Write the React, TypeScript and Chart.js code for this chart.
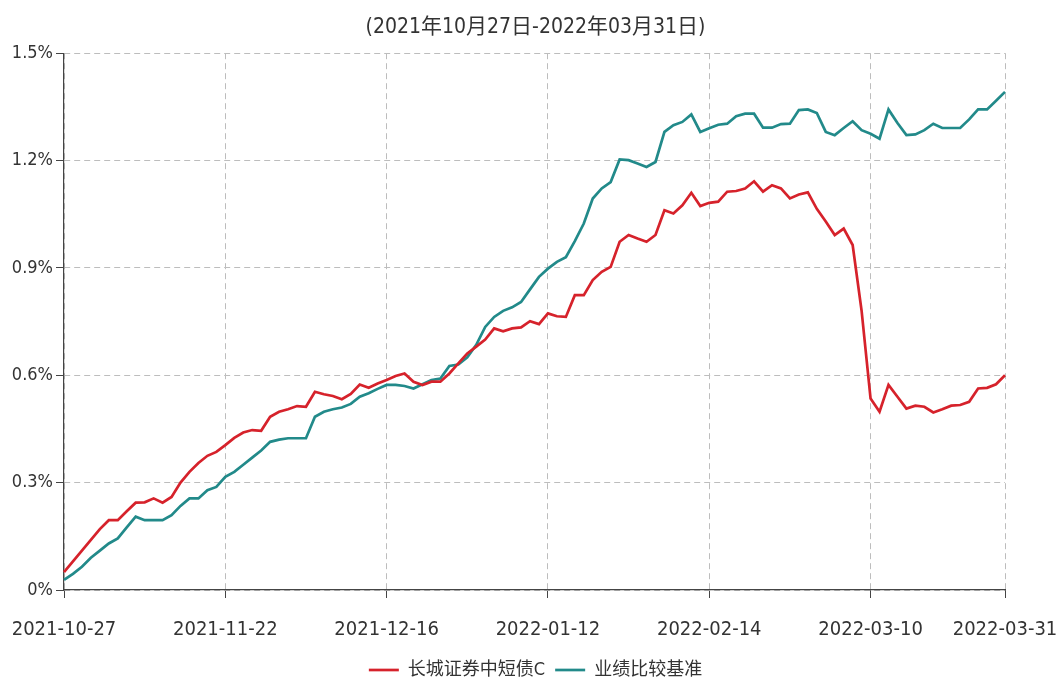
import React, { useEffect, useRef } from "react";
import { Chart, registerables } from "chart.js";

Chart.register(...registerables);

const titleText = "(2021年10月27日-2022年03月31日)";
const seriesNames = ["长城证券中短债C", "业绩比较基准"];

// trading days by month
const tradingDays: [string, number[]][] = [
  ["2021-10", [27, 28, 29]],
  ["2021-11", [1, 2, 3, 4, 5, 8, 9, 10, 11, 12, 15, 16, 17, 18, 19, 22, 23, 24, 25, 26, 29, 30]],
  ["2021-12", [1, 2, 3, 6, 7, 8, 9, 10, 13, 14, 15, 16, 17, 20, 21, 22, 23, 24, 27, 28, 29, 30, 31]],
  ["2022-01", [4, 5, 6, 7, 10, 11, 12, 13, 14, 17, 18, 19, 20, 21, 24, 25, 26, 27, 28]],
  ["2022-02", [7, 8, 9, 10, 11, 14, 15, 16, 17, 18, 21, 22, 23, 24, 25, 28]],
  ["2022-03", [1, 2, 3, 4, 7, 8, 9, 10, 11, 14, 15, 16, 17, 18, 21, 22, 23, 24, 25, 28, 29, 30, 31]],
];
const categories: string[] = tradingDays.flatMap(([m, days]) =>
  days.map((d) => `${m}-${String(d).padStart(2, "0")}`)
);

const xTickLabels = ["2021-10-27", "2021-11-22", "2021-12-16", "2022-01-12", "2022-02-14", "2022-03-10", "2022-03-31"];
const yTickValues = [0, 0.3, 0.6, 0.9, 1.2, 1.5];

// 长城证券中短债C (%)
const fundValues = [
  0.05, 0.08, 0.11, 0.14, 0.17, 0.195, 0.195, 0.22, 0.244, 0.245,
  0.256, 0.244, 0.26, 0.3, 0.33, 0.355, 0.375, 0.386, 0.405, 0.425,
  0.44, 0.447, 0.445, 0.484, 0.498, 0.505, 0.514, 0.512, 0.554, 0.547,
  0.542, 0.533, 0.548, 0.574, 0.565, 0.577, 0.587, 0.598, 0.605, 0.582,
  0.573, 0.582, 0.582, 0.605, 0.633, 0.661, 0.68, 0.7, 0.731, 0.723,
  0.731, 0.734, 0.751, 0.743, 0.773, 0.765, 0.763, 0.824, 0.824, 0.866,
  0.889, 0.903, 0.973, 0.992, 0.982, 0.973, 0.992, 1.061, 1.052, 1.075,
  1.11, 1.073, 1.082, 1.085, 1.113, 1.115, 1.122, 1.142, 1.113, 1.131,
  1.122, 1.094, 1.105, 1.111, 1.065, 1.03, 0.992, 1.01, 0.964, 0.78,
  0.535, 0.498, 0.573, 0.54, 0.507, 0.515, 0.512, 0.496, 0.505, 0.515,
  0.517, 0.526, 0.563, 0.565, 0.575, 0.6,
];

// 业绩比较基准 (%)
const benchmarkValues = [
  0.028, 0.045, 0.065, 0.09, 0.11, 0.13, 0.144, 0.175, 0.205, 0.195,
  0.195, 0.195, 0.209, 0.235, 0.256, 0.256, 0.279, 0.288, 0.316, 0.33,
  0.35, 0.37, 0.39, 0.414, 0.42, 0.424, 0.424, 0.424, 0.484, 0.498,
  0.505, 0.51, 0.52, 0.54, 0.55, 0.562, 0.573, 0.573, 0.57, 0.563,
  0.575, 0.587, 0.591, 0.626, 0.63, 0.65, 0.685, 0.735, 0.763, 0.78,
  0.79, 0.805, 0.84, 0.875, 0.898, 0.917, 0.93, 0.975, 1.024, 1.094,
  1.122, 1.14, 1.203, 1.201, 1.192, 1.182, 1.196, 1.28, 1.299, 1.308,
  1.329, 1.28, 1.29, 1.3, 1.303, 1.324, 1.331, 1.331, 1.292, 1.292,
  1.302, 1.303, 1.341, 1.343, 1.333, 1.28, 1.271, 1.291, 1.31, 1.285,
  1.275, 1.261, 1.343, 1.305, 1.271, 1.273, 1.285, 1.303, 1.291, 1.291,
  1.291, 1.315, 1.343, 1.343, 1.367, 1.392,
];

const FONT = '"DejaVu Sans Condensed", "Noto Sans CJK SC", sans-serif';

// centre title and legend over the plot area, legend slightly lower
const blockShift = {
  id: "blockShift",
  afterLayout(chart: any) {
    const l = chart.legend;
    if (l) {
      l.top += 7;
      l.bottom += 7;
      l.left += 33;
      l.right += 33;
    }
    const t = chart.titleBlock;
    if (t) {
      t.left += 33;
      t.right += 33;
    }
  },
};

export default function App() {
  const canvasRef = useRef<HTMLCanvasElement | null>(null);

  useEffect(() => {
    if (!canvasRef.current) return;
    const chart = new Chart(canvasRef.current, {
      type: "line",
      data: {
        labels: categories,
        datasets: [
          {
            label: seriesNames[0],
            data: fundValues,
            borderColor: "#d6222b",
            backgroundColor: "#d6222b",
            borderWidth: 2.7,
            pointRadius: 0,
            tension: 0,
          },
          {
            label: seriesNames[1],
            data: benchmarkValues,
            borderColor: "#228a8a",
            backgroundColor: "#228a8a",
            borderWidth: 2.7,
            pointRadius: 0,
            tension: 0,
          },
        ],
      },
      options: {
        animation: false,
        responsive: true,
        maintainAspectRatio: false,
        layout: { padding: { left: 0, right: 52, top: 0, bottom: 0 } },
        plugins: {
          title: {
            display: true,
            text: titleText,
            color: "#333",
            font: { family: FONT, size: 21, weight: "normal", lineHeight: 1.2 },
            padding: { top: 15, bottom: 13 },
          },
          legend: {
            position: "bottom",
            labels: {
              usePointStyle: true,
              pointStyle: "line",
              pointStyleWidth: 30,
              color: "#333",
              padding: 10,
              font: { family: FONT, size: 18 },
            },
          },
          tooltip: { enabled: false },
        },
        scales: {
          x: {
            type: "category",
            afterFit: (scale: any) => {
              scale.height = 54;
              scale.paddingLeft = 0;
              scale.paddingRight = 0;
            },
            border: { display: true, color: "#444", width: 1.2, dash: [6, 4] },
            grid: {
              color: "#bdbdbd",
              lineWidth: 1,
              drawTicks: true,
              tickLength: 8,
              tickColor: "#444",
              tickBorderDash: [],
            },
            ticks: {
              autoSkip: false,
              maxRotation: 0,
              minRotation: 0,
              padding: 20,
              color: "#333",
              font: { family: FONT, size: 20 },
              callback: function (this: any, value: any) {
                const label = this.getLabelForValue(value);
                return xTickLabels.includes(label) ? label : null;
              },
            },
          },
          y: {
            min: 0,
            max: 1.5,
            afterFit: (scale: any) => {
              scale.width = 64;
            },
            afterBuildTicks: (scale: any) => {
              scale.ticks = yTickValues.map((v) => ({ value: v }));
            },
            border: { display: true, color: "#444", width: 1.2, dash: [6, 4] },
            grid: {
              color: "#bdbdbd",
              lineWidth: 1,
              drawTicks: true,
              tickLength: 8,
              tickColor: "#444",
              tickBorderDash: [],
            },
            ticks: {
              padding: 3,
              color: "#333",
              font: { family: FONT, size: 18 },
              callback: (value: any) => (Number(value) === 0 ? "0%" : Number(value).toFixed(1) + "%"),
            },
          },
        },
      },
      plugins: [blockShift],
    });
    return () => chart.destroy();
  }, []);

  return (
    <div style={{ position: "absolute", left: 0, top: 0, width: 1057, height: 682, background: "#fff" }}>
      <canvas ref={canvasRef} />
    </div>
  );
}
